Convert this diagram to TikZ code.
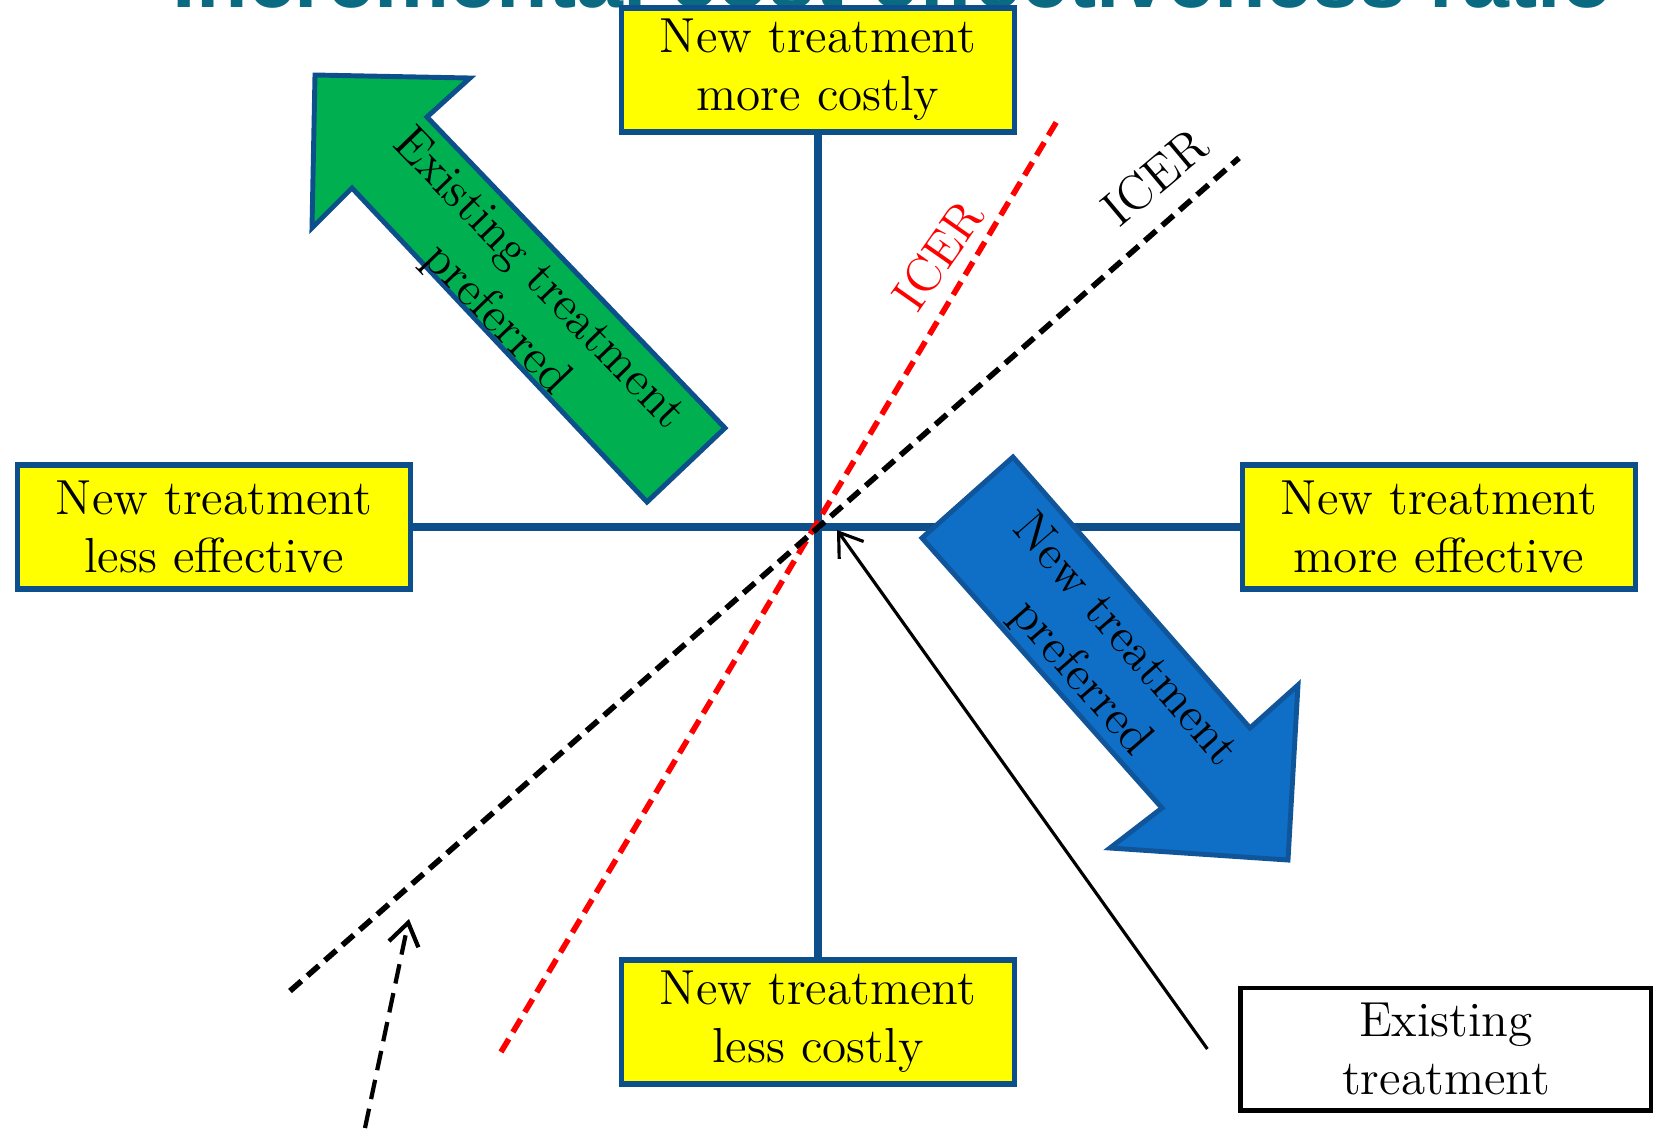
\documentclass[tikz,border=0pt]{standalone}
\usepackage{fontspec}
\newfontfamily\titlefont{Liberation Sans}
\usetikzlibrary{arrows.meta}
\definecolor{ICAxis}{HTML}{0D4F8B}
\definecolor{ICYellow}{HTML}{FFFF00}
\definecolor{ICGreen}{HTML}{00B050}
\definecolor{ICBlue}{HTML}{0F6FC6}
\definecolor{ICBlueEdge}{HTML}{10559A}
\definecolor{ICTeal}{HTML}{0A6A82}
\definecolor{ICRed}{HTML}{FF0000}

\tikzset{
  quadbox/.style={draw=ICAxis, line width=1.5pt, fill=ICYellow, minimum width=3.93cm,
    minimum height=1.24cm, inner sep=0pt, align=center, font=\fontsize{14}{16.5}\selectfont},
  icerline/.style={line width=1.6pt, dash pattern=on 4.3pt off 2.3pt},
  blockarrow/.style={line width=1.4pt, line join=miter},
  arrowtext/.style={align=center, inner sep=0pt, font=\fontsize{14}{16.5}\selectfont},
}

\begin{document}
\begin{tikzpicture}[x=0.01cm,y=-0.01cm]
  \useasboundingbox (0,0) rectangle (1653,1138);
  \node[ICTeal, anchor=base, inner sep=0pt, font=\titlefont\bfseries\fontsize{24}{28}\selectfont] (title) at (893,7) {Incremental cost-effectiveness ratio};

  % the four quadrant boxes
  \node[quadbox] (costly) at (818,70) {New treatment\\more costly};
  \node[quadbox] (cheap) at (818,1022) {New treatment\\less costly};
  \node[quadbox] (worse) at (214,527) {New treatment\\less effective};
  \node[quadbox] (better) at (1439,527) {New treatment\\more effective};
  \node[draw=black, line width=1.4pt, minimum width=4.1cm, minimum height=1.22cm, inner sep=0pt,
    align=center, font=\fontsize{14}{16.5}\selectfont] (exist) at (1446,1049) {Existing\\treatment};

  % axes
  \draw[ICAxis, line width=2.4pt] (costly.south) -- (cheap.north);
  \draw[ICAxis, line width=2.4pt] (worse.east) -- (better.west);

  % ICER lines
  \coordinate (redlow) at (501,1052);
  \coordinate (redhigh) at (1060,116);
  \coordinate (blacklow) at (290,991);
  \coordinate (blackhigh) at (1239,158);
  \draw[icerline, ICRed] (redlow) -- (redhigh);
  \draw[icerline, black] (blacklow) -- (blackhigh);
  \node[ICRed, rotate=55, inner sep=0pt, font=\fontsize{14}{16.5}\selectfont] (redicer) at (938,255) {ICER};
  \node[rotate=40, inner sep=0pt, font=\fontsize{14}{16.5}\selectfont] (blackicer) at (1155,177) {ICER};

  % block arrows
  \draw[blockarrow, draw=ICAxis, fill=ICGreen] (315,75) -- (470,78) -- (427,117) -- (725,428)
    -- (647,502) -- (352,188) -- (312,228) -- cycle;
  \draw[blockarrow, draw=ICBlueEdge, fill=ICBlue] (1013,457) -- (1250,728) -- (1298,685)
    -- (1288,860) -- (1110,848) -- (1162,808) -- (922,538) -- cycle;
  \node[arrowtext, rotate=-46] (oldbest) at (517,300) {Existing treatment\\preferred};
  \node[arrowtext, rotate=-49] (newbest) at (1102,660) {New treatment\\preferred};

  % pointers
  \coordinate (hit) at (837,530);
  \coordinate (pointer) at (365,1128);
  \coordinate (ontheline) at (409,919);
  \draw[-{Straight Barb[length=2.2mm,width=3mm]}, line width=0.9pt] ([xshift=-0.31cm]exist.west) -- (hit);
  \draw[-{Straight Barb[length=2.2mm,width=3mm]}, line width=1.2pt, dash pattern=on 5.6pt off 2.8pt] (pointer) -- (ontheline);
\end{tikzpicture}
\end{document}
